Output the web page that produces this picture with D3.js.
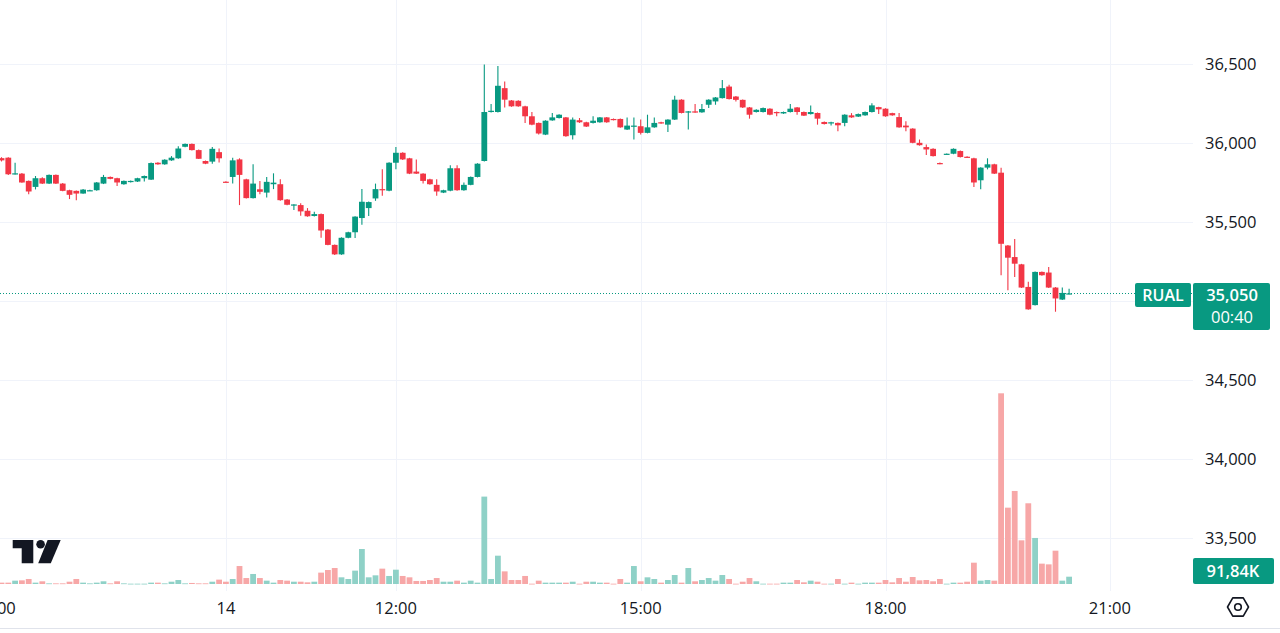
<!DOCTYPE html>
<html><head><meta charset="utf-8">
<script src="https://cdn.jsdelivr.net/npm/d3@7/dist/d3.min.js"></script>
<style>html,body{margin:0;padding:0;background:#fff;overflow:hidden}svg{display:block;font-family:"Open Sans",sans-serif}</style>
</head><body><svg id="c" width="1280" height="633"></svg>
<script>
// candle index of the first entry (5-minute bars)
const firstIndex = -1;
const opens = [
35906,35909,35806,35808,35762,35724,35779,35745,35800,35745,
35703,35699,35682,35700,35703,35745,35787,35779,35741,35756,
35758,35779,35770,35877,35867,35892,35905,35978,35996,35957,
35888,35884,35944,35757,35787,35898,35772,35653,35709,35688,
35741,35741,35644,35611,35609,35573,35540,35552,35454,35357,
35297,35402,35437,35527,35590,35651,35710,35700,35877,35940,
35905,35821,35808,35772,35737,35688,35700,35842,35703,35737,
35787,35888,36198,36198,36349,36271,36269,36234,36171,36129,
36055,36145,36160,36164,36051,36146,36133,36129,36133,36164,
36154,36154,36087,36105,36108,36066,36101,36133,36118,36150,
36276,36200,36202,36196,36244,36265,36286,36359,36296,36275,
36227,36198,36198,36219,36198,36189,36198,36227,36198,36185,
36192,36135,36129,36129,36129,36177,36169,36177,36198,36229,
36219,36191,36166,36112,36093,36003,35976,35965,35875,35932,
35934,35951,35915,35905,35766,35846,35867,35814,35353,35280,
35234,35091,34976,35186,35182,35087,35011,35047];
const highs = [
35912,35912,35877,35812,35765,35793,35785,35803,35803,35748,
35706,35702,35710,35706,35755,35800,35790,35782,35765,35765,
35782,35796,35878,35880,35899,35919,35982,35999,35999,35960,
35891,35976,35967,35760,35909,35905,35775,35867,35762,35787,
35810,35772,35647,35614,35620,35590,35567,35555,35457,35360,
35405,35440,35539,35710,35632,35745,35835,35880,35976,35943,
35908,35898,35811,35775,35772,35706,35861,35861,35752,35790,
35874,36499,36248,36489,36391,36274,36272,36237,36198,36132,
36146,36191,36184,36167,36164,36160,36136,36171,36167,36167,
36157,36157,36164,36164,36150,36181,36164,36136,36153,36301,
36279,36204,36248,36248,36279,36293,36401,36370,36299,36278,
36230,36215,36226,36222,36201,36201,36248,36230,36201,36240,
36195,36138,36136,36132,36184,36191,36188,36201,36254,36232,
36222,36194,36191,36139,36096,36024,35993,35968,35878,35936,
35968,35954,35918,35908,35849,35905,35870,35846,35356,35395,
35237,35123,35189,35189,35217,35090,35087,35080];
const lows = [
35885,35800,35802,35750,35678,35708,35742,35742,35742,35696,
35647,35640,35680,35698,35700,35742,35772,35730,35738,35752,
35755,35758,35767,35864,35864,35889,35902,35975,35955,35900,
35868,35871,35878,35752,35745,35609,35650,35650,35678,35657,
35710,35637,35608,35578,35542,35535,35537,35402,35354,35293,
35294,35399,35401,35485,35540,35636,35668,35697,35835,35895,
35805,35805,35745,35738,35668,35685,35697,35700,35700,35734,
35784,35885,36195,36195,36227,36231,36231,36129,36115,36055,
36052,36142,36157,36042,36024,36129,36103,36126,36130,36130,
36145,36098,36084,36024,36055,36063,36098,36124,36072,36147,
36189,36087,36193,36193,36223,36244,36283,36277,36265,36224,
36156,36195,36195,36178,36171,36186,36195,36181,36172,36182,
36118,36119,36112,36076,36108,36161,36166,36174,36195,36185,
36168,36174,36098,36076,36000,35985,35926,35916,35868,35929,
35931,35910,35908,35724,35709,35835,35805,35165,35070,35154,
35084,34946,34973,35162,35084,34934,35008,35044];
const closes = [
35892,35804,35810,35752,35695,35779,35745,35800,35745,35699,
35674,35682,35707,35703,35752,35787,35775,35752,35762,35762,
35779,35793,35875,35867,35896,35909,35967,35996,35957,35902,
35871,35965,35905,35755,35892,35800,35653,35745,35693,35756,
35751,35640,35611,35613,35569,35538,35552,35448,35357,35297,
35402,35437,35536,35630,35628,35710,35703,35877,35940,35898,
35808,35808,35762,35741,35695,35703,35842,35703,35737,35787,
35871,36198,36206,36364,36276,36234,36234,36171,36118,36062,
36143,36164,36181,36045,36150,36133,36106,36143,36164,36133,
36148,36101,36112,36112,36066,36101,36129,36127,36150,36276,
36192,36202,36196,36217,36276,36290,36349,36280,36275,36227,
36181,36212,36223,36181,36194,36198,36219,36198,36175,36198,
36156,36122,36133,36114,36181,36164,36185,36198,36240,36215,
36171,36177,36101,36101,36003,35988,35961,35919,35871,35934,
35965,35913,35911,35752,35846,35867,35808,35364,35276,35238,
35087,34949,35186,35165,35087,35018,35053,35050];
// volume in thousands
const volumes = [
17,17,42,46,63,17,34,8,8,8,
29,63,17,8,17,34,8,34,8,4,
4,4,17,17,8,29,50,8,13,8,
8,29,55,29,63,226,75,126,75,42,
17,50,42,29,29,21,29,143,176,201,
84,63,168,440,84,109,193,101,180,101,
84,38,38,50,75,29,29,42,17,42,
17,1099,63,356,159,50,50,101,4,42,
17,17,17,17,29,4,29,29,17,17,
4,63,17,226,34,84,63,17,50,113,
17,201,34,50,75,42,113,63,4,29,
75,34,4,4,4,17,17,50,21,42,
29,4,4,63,4,17,4,17,17,17,
50,21,75,29,88,46,50,34,63,4,
17,17,29,268,42,50,42,2398,960,1170,
549,1015,579,256,247,419,42,91.84];

const priceTicks = [33500, 34000, 34500, 35000, 35500, 36000, 36500];
const priceTickLabels = ["33,500", "34,000", "34,500", "", "35,500", "36,000", "36,500"];
const timeTickIndex = [-2, 32, 57, 93, 129, 162];
const timeTickLabels = ["21:00", "14", "12:00", "15:00", "18:00", "21:00"];
const symbolName = "RUAL";
const lastPriceText = "35,050";
const countdownText = "00:40";
const lastVolumeText = "91,84K";

const W = 1280, H = 633, plotRight = 1193, paneBottom = 591;
const UP = "#089981", DOWN = "#f23645", UPV = "#8fd1c7", DOWNV = "#f7a7a7";
const TEXT = "#131722", GRID = "#f0f3fa";

const data = opens.map((o, k) => ({
  i: firstIndex + k, o, h: highs[k], l: lows[k], c: closes[k], v: volumes[k]
}));

const x = d3.scaleLinear().domain([0, 155]).range([8.3, 1062.3]);
const y = d3.scaleLinear().domain([33500, 36500]).range([538.3, 64.3]);
const yv = d3.scaleLinear().domain([0, 2398]).range([584, 393.3]);

const svg = d3.select("#c");
svg.append("rect").attr("width", W).attr("height", H).attr("fill", "#fff");
svg.append("defs").append("clipPath").attr("id", "pane")
  .append("rect").attr("x", 0).attr("y", 0).attr("width", plotRight).attr("height", paneBottom);

const pane = svg.append("g").attr("clip-path", "url(#pane)");

// grid
pane.selectAll("line.hg").data(priceTicks).join("line")
  .attr("x1", 0).attr("x2", plotRight)
  .attr("y1", d => Math.round(y(d)) + 0.5).attr("y2", d => Math.round(y(d)) + 0.5)
  .attr("stroke", GRID).attr("stroke-width", 1);
pane.selectAll("line.vg").data(timeTickIndex).join("line")
  .attr("x1", d => Math.round(x(d)) + 0.5).attr("x2", d => Math.round(x(d)) + 0.5)
  .attr("y1", 0).attr("y2", paneBottom)
  .attr("stroke", GRID).attr("stroke-width", 1);

// volume bars
pane.selectAll("rect.vol").data(data).join("rect")
  .attr("x", d => x(d.i) - 2.9).attr("width", 5.8)
  .attr("y", d => yv(d.v)).attr("height", d => Math.max(0.8, yv(0) - yv(d.v)))
  .attr("fill", d => d.c >= d.o ? UPV : DOWNV);

// last price dotted line
const lastClose = closes[closes.length - 1];
const lastY = Math.round(y(lastClose)) + 0.5;
pane.append("line").attr("x1", 0).attr("x2", plotRight).attr("y1", lastY).attr("y2", lastY)
  .attr("stroke", UP).attr("stroke-width", 1).attr("stroke-dasharray", "1,2");

// candles
const cg = pane.append("g");
cg.selectAll("line.wick").data(data).join("line")
  .attr("x1", d => x(d.i)).attr("x2", d => x(d.i))
  .attr("y1", d => y(d.h)).attr("y2", d => y(d.l))
  .attr("stroke", d => d.c >= d.o ? UP : DOWN).attr("stroke-width", 1.1);
cg.selectAll("rect.body").data(data).join("rect")
  .attr("x", d => x(d.i) - 2.9).attr("width", 5.8)
  .attr("y", d => y(Math.max(d.o, d.c)))
  .attr("height", d => Math.max(1.2, Math.abs(y(d.o) - y(d.c))))
  .attr("fill", d => d.c >= d.o ? UP : DOWN);

// price axis labels
svg.selectAll("text.pl").data(priceTicks.map((p, k) => ({p, t: priceTickLabels[k]})).filter(d => d.t))
  .join("text")
  .attr("x", 1205).attr("y", d => y(d.p)).attr("dy", "0.35em")
  .attr("fill", TEXT).attr("font-size", 16.5).text(d => d.t);

// time axis labels
svg.selectAll("text.tl").data(timeTickIndex.map((t, k) => ({t, s: timeTickLabels[k]})))
  .join("text")
  .attr("x", d => x(d.t)).attr("y", 608).attr("dy", "0.35em").attr("text-anchor", "middle")
  .attr("fill", TEXT).attr("font-size", 16.5).text(d => d.s);

// bottom border
svg.append("line").attr("x1", 0).attr("x2", W).attr("y1", 628.5).attr("y2", 628.5)
  .attr("stroke", "#e0e3eb").attr("stroke-width", 1);

// symbol + last price labels
const boxTop = y(lastClose) - 10.5;
svg.append("rect").attr("x", 1135).attr("y", boxTop).attr("width", 56).attr("height", 24)
  .attr("rx", 2).attr("fill", UP);
svg.append("text").attr("x", 1163).attr("y", boxTop + 12).attr("dy", "0.35em")
  .attr("text-anchor", "middle").attr("fill", "#fff").attr("font-size", 16).attr("font-weight", 600)
  .text(symbolName);
svg.append("rect").attr("x", 1193).attr("y", boxTop).attr("width", 77).attr("height", 47)
  .attr("rx", 2).attr("fill", UP);
svg.append("text").attr("x", 1232).attr("y", boxTop + 12).attr("dy", "0.35em")
  .attr("text-anchor", "middle").attr("fill", "#fff").attr("font-size", 16.5).attr("font-weight", 600)
  .text(lastPriceText);
svg.append("text").attr("x", 1232).attr("y", boxTop + 34).attr("dy", "0.35em")
  .attr("text-anchor", "middle").attr("fill", "#fff").attr("font-size", 16.5)
  .text(countdownText);

// last volume label
const lastVol = volumes[volumes.length - 1];
const vTop = Math.min(yv(lastVol) - 13, 584 - 26);
svg.append("rect").attr("x", 1193).attr("y", vTop).attr("width", 81).attr("height", 26)
  .attr("rx", 2).attr("fill", UP);
svg.append("text").attr("x", 1233).attr("y", vTop + 13).attr("dy", "0.35em")
  .attr("text-anchor", "middle").attr("fill", "#fff").attr("font-size", 16.5).attr("font-weight", 600)
  .text(lastVolumeText);

// TradingView logo
const logo = svg.append("g").attr("fill", TEXT);
logo.append("path").attr("d", "M12.7,540 H33.3 V563.3 H21.7 V548.3 H12.7 Z");
logo.append("circle").attr("cx", 40.6).attr("cy", 544.2).attr("r", 4.3);
logo.append("path").attr("d", "M47.6,540 H60.7 L50.8,563.3 H38.2 Z");

// settings icon
const cx0 = 1238, cy0 = 607, r0 = 10.5;
const hex = d3.range(6).map(k => {
  const a = Math.PI / 3 * k;
  return [cx0 + r0 * Math.cos(a), cy0 + r0 * Math.sin(a)];
});
svg.append("path").attr("d", "M" + hex.map(p => p.join(",")).join("L") + "Z")
  .attr("fill", "none").attr("stroke", TEXT).attr("stroke-width", 1.6).attr("stroke-linejoin", "round");
svg.append("circle").attr("cx", cx0).attr("cy", cy0).attr("r", 3.3)
  .attr("fill", "none").attr("stroke", TEXT).attr("stroke-width", 1.6);
</script></body></html>
